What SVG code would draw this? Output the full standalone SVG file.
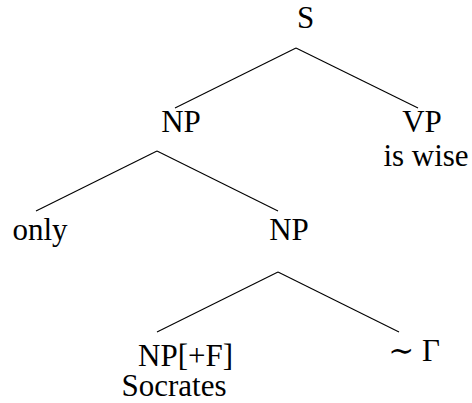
<svg xmlns="http://www.w3.org/2000/svg" width="472" height="403" viewBox="0 0 472 403">
<style>
text{font-family:serif;font-size:31px;fill:#000;text-anchor:middle}
.sim{font-family:'DejaVu Serif'}
.e line{stroke:#000;stroke-width:1.1}
</style>
<rect width="472" height="403" fill="#fff"/>
<g class="e" id="edges">
<line x1="296" y1="48" x2="175" y2="108"/>
<line x1="296" y1="48" x2="418" y2="108"/>
<line x1="157" y1="151" x2="36" y2="211"/>
<line x1="157" y1="151" x2="278" y2="211"/>
<line x1="278" y1="272" x2="157" y2="332"/>
<line x1="278" y1="272" x2="399" y2="332"/>
</g>
<g id="S"><text x="305.5" y="28">S</text></g>
<g id="NP1"><text x="181" y="132">NP</text></g>
<g id="VP"><text x="422" y="132">VP</text><text x="426" y="166">is wise</text></g>
<g id="only"><text x="40" y="240">only</text></g>
<g id="NP2"><text x="289" y="240">NP</text></g>
<g id="NPF"><text x="185.5" y="366">NP[+F]</text><text x="174" y="396">Socrates</text></g>
<g id="Gamma"><text x="414" y="361"><tspan class="sim">∼</tspan> Γ</text></g>
</svg>
